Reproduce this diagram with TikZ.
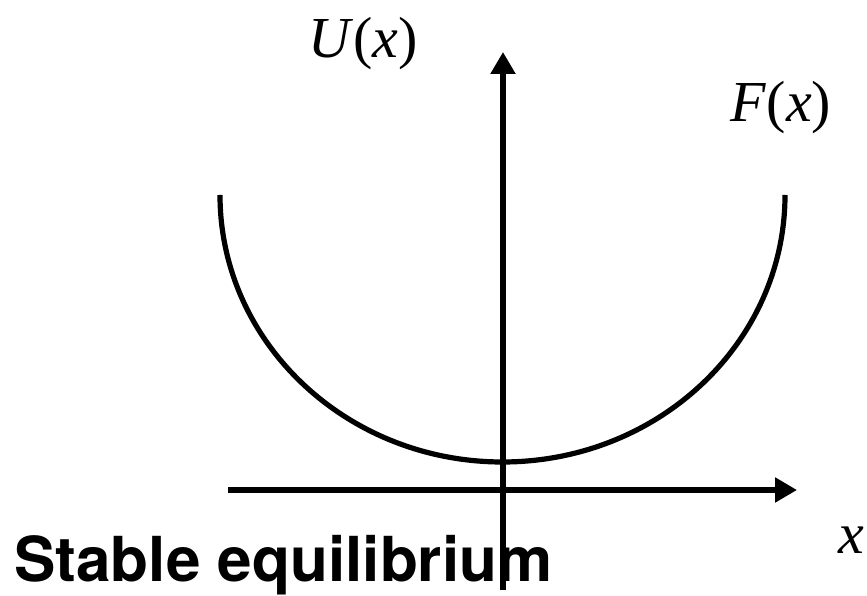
\documentclass[tikz,border=0pt]{standalone}
\usepackage{fontspec}
\setmainfont{Liberation Serif}
\newfontfamily\headfont{TeX Gyre Heros}
\usetikzlibrary{arrows.meta}

\begin{document}
\begin{tikzpicture}[x=1pt, y=1pt,
 axis/.style={-{Triangle[length=22pt,width=24pt]},line width=5.2pt},
 curve/.style={line width=5.2pt},
 lbl/.style={inner sep=0pt,font=\fontsize{58}{60}\selectfont},
 title/.style={inner sep=0pt,font=\headfont\bfseries\fontsize{62}{64}\selectfont}]
\useasboundingbox (0,0) rectangle (867,596);
% axes
\coordinate (xl) at (228,106); \coordinate (xr) at (797,106);
\coordinate (yb) at (503,6); \coordinate (yt) at (503,544);
\draw[axis] (xl) -- (xr);
\draw[axis] (yb) -- (yt);
% potential well
\coordinate (cl) at (220,401);
\draw[curve] (cl) arc[start angle=180, end angle=360, x radius=282.5, y radius=267];
% labels
\node[lbl] (u) at (363,552) {\textit{U}(\textit{x})};
\node[lbl] (f) at (781,488) {\textit{F}(\textit{x})};
\node[lbl] (x) at (851,56) {\textit{x}};
\node[title, anchor=base west] (s) at (14,14) {Stable equilibrium};
\end{tikzpicture}
\end{document}
